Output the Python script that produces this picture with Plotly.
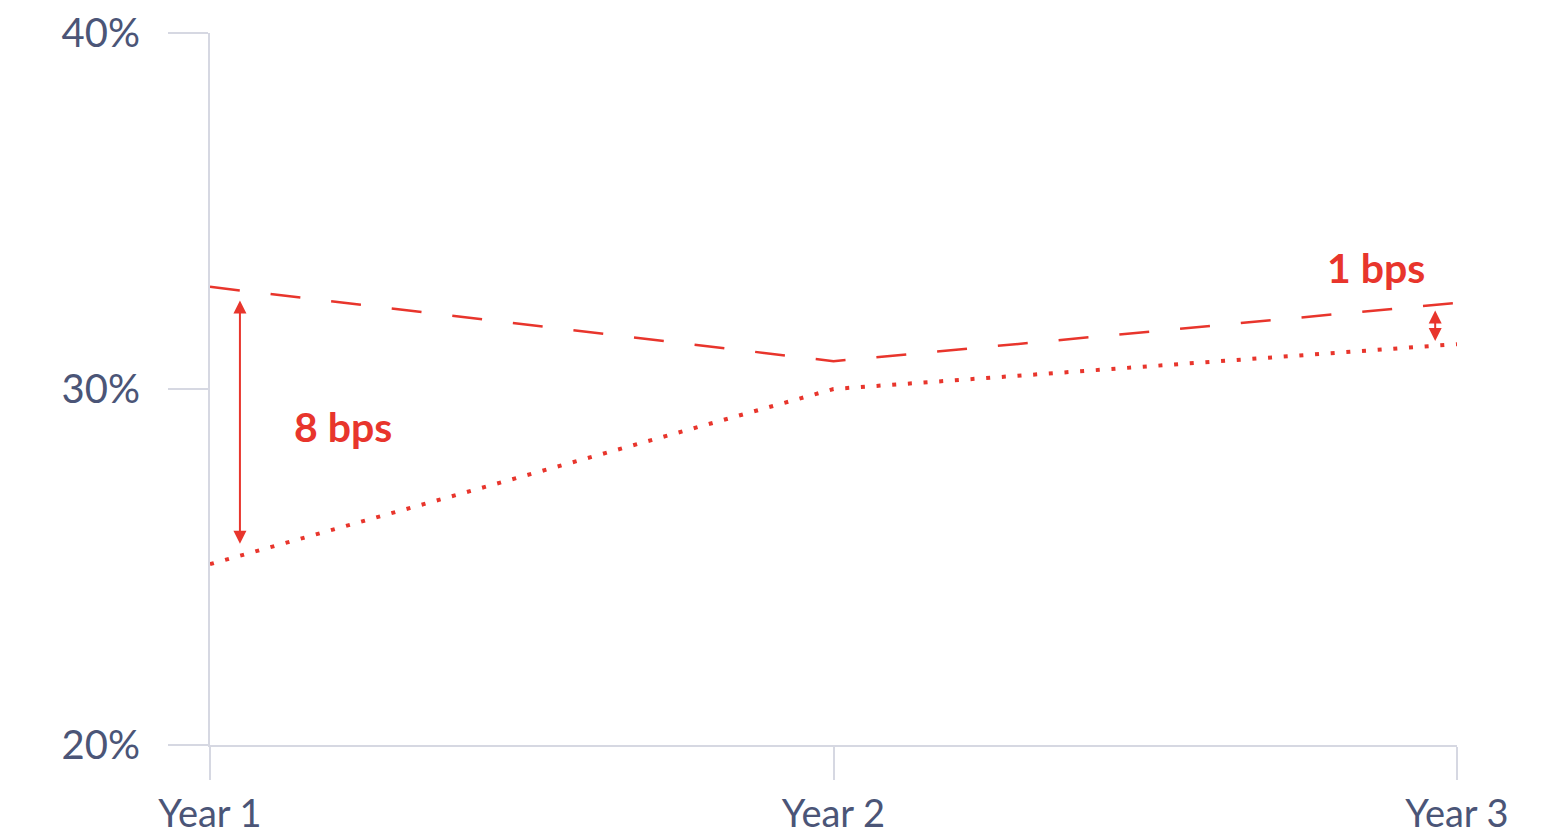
import plotly.graph_objects as go

years = ["Year 1", "Year 2", "Year 3"]
dashed_vals = [32.87, 30.78, 32.42]
dotted_vals = [25.08, 30.0, 31.26]
y_ticks = [20, 30, 40]
y_tick_text = ["20%", "30%", "40%"]
gap_labels = ["8 bps", "1 bps"]

RED = "#e8352c"
AXIS = "#d6d8e2"
TEXT = "#4b5577"
FONT = "Lato"

fig = go.Figure()
fig.add_trace(go.Scatter(x=[0, 1, 2], y=dashed_vals, mode="lines",
                         line=dict(color=RED, width=2.5, dash="30px,31px"),
                         hoverinfo="skip", showlegend=False))
fig.add_trace(go.Scatter(x=[0, 1, 2], y=dotted_vals, mode="lines",
                         line=dict(color=RED, width=4, dash="4px,11.7px"),
                         hoverinfo="skip", showlegend=False))

# double-headed arrows showing the gaps
fig.add_annotation(x=0.048, y=25.65, ax=0.048, ay=32.53, xref="x", yref="y",
                   axref="x", ayref="y", text="", showarrow=True,
                   arrowhead=2, arrowside="end+start", arrowsize=1.3,
                   arrowwidth=2, arrowcolor=RED, standoff=0, startstandoff=0)
fig.add_annotation(x=1.965, y=31.35, ax=1.965, ay=32.25, xref="x", yref="y",
                   axref="x", ayref="y", text="", showarrow=True,
                   arrowhead=2, arrowside="end+start", arrowsize=1.3,
                   arrowwidth=2, arrowcolor=RED, standoff=0, startstandoff=0)

fig.add_annotation(x=0.214, y=28.95, xref="x", yref="y", text="<b>%s</b>" % gap_labels[0],
                   showarrow=False, font=dict(family=FONT, size=41, color=RED))
fig.add_annotation(x=1.87, y=33.4, xref="x", yref="y", text="<b>%s</b>" % gap_labels[1],
                   showarrow=False, font=dict(family=FONT, size=41, color=RED))

fig.update_layout(
    width=1553, height=837,
    margin=dict(l=210, r=96, t=33, b=92, autoexpand=False),
    plot_bgcolor="white", paper_bgcolor="white",
    font=dict(family=FONT, color=TEXT),
    xaxis=dict(range=[0, 2], tickvals=[0, 1, 2], ticktext=years,
               showgrid=False, zeroline=False, showline=True, automargin=False,
               linecolor=AXIS, linewidth=2, ticks="outside", ticklen=33,
               tickwidth=2, tickcolor=AXIS, tickfont=dict(size=38, color=TEXT),
               ticklabelstandoff=1),
    yaxis=dict(range=[20, 40], tickvals=y_ticks, ticktext=y_tick_text,
               showgrid=False, zeroline=False, showline=True, automargin=False,
               linecolor=AXIS, linewidth=2, ticks="outside", ticklen=40,
               tickwidth=2, tickcolor=AXIS, tickfont=dict(size=40, color=TEXT),
               ticklabelstandoff=20),
)

fig.write_html("out.html")
